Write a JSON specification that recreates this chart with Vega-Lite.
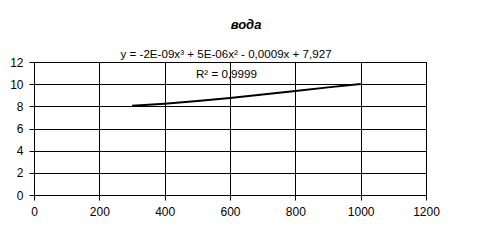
{
  "$schema": "https://vega.github.io/schema/vega-lite/v6.json",
  "width": 392,
  "height": 133,
  "autosize": {"type": "none"},
  "padding": {"left": 34, "top": 62, "right": 66, "bottom": 57},
  "background": "white",
  "title": {
    "text": "вода",
    "font": "Liberation Sans",
    "fontSize": 13,
    "fontWeight": "bold",
    "fontStyle": "italic",
    "color": "black",
    "anchor": "middle",
    "frame": "group",
    "baseline": "alphabetic",
    "offset": 7,
    "dx": 16
  },
  "config": {
    "view": {"stroke": "black", "strokeWidth": 1},
    "font": "Liberation Sans",
    "axis": {
      "labelFont": "Liberation Sans",
      "labelFontSize": 12,
      "labelColor": "black",
      "domainColor": "black",
      "tickColor": "black",
      "gridColor": "black",
      "gridOpacity": 1,
      "tickSize": 5,
      "labelPadding": 6,
      "labelOverlap": false,
      "labelFlush": false,
      "title": null
    },
    "axisX": {"values": [0, 200, 400, 600, 800, 1000, 1200], "grid": true, "format": "d"},
    "axisY": {"values": [0, 2, 4, 6, 8, 10, 12], "grid": true, "format": "d"}
  },
  "layer": [
    {
      "data": {
        "values": [
          {"x": 300, "y": 8.05},
          {"x": 400, "y": 8.24},
          {"x": 500, "y": 8.48},
          {"x": 600, "y": 8.75},
          {"x": 700, "y": 9.06},
          {"x": 800, "y": 9.38},
          {"x": 900, "y": 9.71},
          {"x": 1000, "y": 10.02}
        ]
      },
      "mark": {"type": "line", "color": "black", "strokeWidth": 2},
      "encoding": {
        "x": {
          "field": "x",
          "type": "quantitative",
          "scale": {"domain": [0, 1200], "nice": false},
          "axis": {"values": [0, 200, 400, 600, 800, 1000, 1200], "grid": true, "format": "d"}
        },
        "y": {
          "field": "y",
          "type": "quantitative",
          "scale": {"domain": [0, 12], "nice": false},
          "axis": {"values": [0, 2, 4, 6, 8, 10, 12], "grid": true, "format": "d"}
        }
      }
    },
    {
      "data": {"values": [{"label": "y = -2E-09x³ + 5E-06x² - 0,0009x + 7,927"}]},
      "mark": {"type": "text", "font": "Liberation Sans", "fontSize": 11.6, "color": "black", "align": "center", "baseline": "alphabetic", "clip": false},
      "encoding": {
        "x": {"datum": 588, "type": "quantitative", "axis": {"values": [0, 200, 400, 600, 800, 1000, 1200], "grid": true, "format": "d"}},
        "y": {"datum": 12.32, "type": "quantitative", "axis": {"values": [0, 2, 4, 6, 8, 10, 12], "grid": true, "format": "d"}},
        "text": {"field": "label"}
      }
    },
    {
      "data": {"values": [{"label": "R² = 0,9999"}]},
      "mark": {"type": "text", "font": "Liberation Sans", "fontSize": 11.6, "color": "black", "align": "center", "baseline": "alphabetic"},
      "encoding": {
        "x": {"datum": 589, "type": "quantitative", "axis": {"values": [0, 200, 400, 600, 800, 1000, 1200], "grid": true, "format": "d"}},
        "y": {"datum": 10.56, "type": "quantitative", "axis": {"values": [0, 2, 4, 6, 8, 10, 12], "grid": true, "format": "d"}},
        "text": {"field": "label"}
      }
    }
  ]
}
